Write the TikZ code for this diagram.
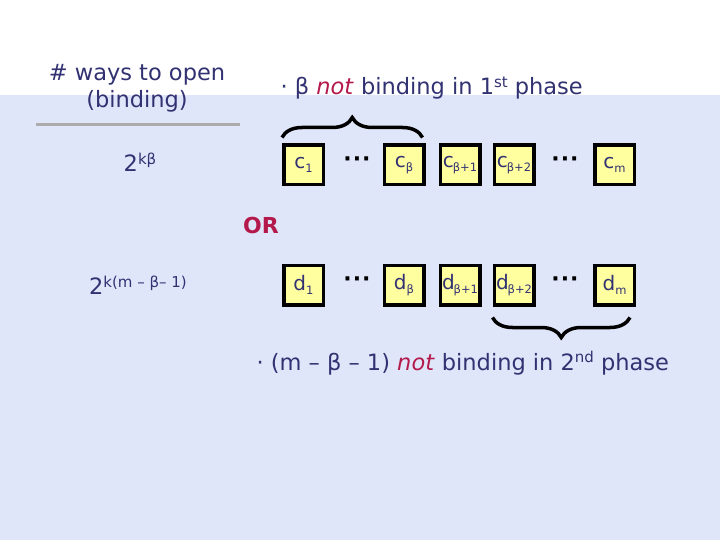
\documentclass[tikz,border=0pt]{standalone}
\usepackage{fontspec}
\setmainfont{DejaVu Sans}
\usetikzlibrary{positioning,decorations.pathreplacing}
\definecolor{ink}{RGB}{50,50,115}
\definecolor{notred}{RGB}{180,25,75}
\definecolor{slide}{RGB}{224,230,250}
\definecolor{cellfill}{RGB}{255,255,160}
\newcommand{\up}[1]{\raisebox{0.6ex}{\fontsize{15}{15}\selectfont #1}}
\newcommand{\dn}[1]{\raisebox{-0.4ex}{\fontsize{11.5}{11.5}\selectfont #1}}
\begin{document}
\begin{tikzpicture}[x=1pt,y=-1pt,
  cell/.style={draw=black,line width=3.5pt,fill=cellfill,minimum size=39.5pt,inner sep=0pt,
    text=ink,font=\fontsize{20}{20}\selectfont},
  lbl/.style={text=ink,font=\fontsize{22.5}{27}\selectfont},
  brace/.style={draw=black,line width=3.5pt,decorate,decoration={brace,amplitude=20pt}}]
\def\rowc{165}
\def\rowd{285}
% slide background
\fill[white] (0,0) rectangle (720,540);
\fill[slide] (0,95) rectangle (720,540);
% left column
\node[lbl,align=center] (ways) at (137,88) {\# ways to open\\(binding)};
\draw[gray!65,line width=3pt] (36,125) -- (240,125);
\node[lbl] (kb) at (140,162) {2\up{kβ}};
\node[lbl] (km) at (138,285) {2\up{k(m – β– 1)}};
\node[text=notred,font=\fontsize{22}{22}\selectfont\bfseries] (or) at (261,225) {OR};
% the two rows of cells
\foreach \r/\y in {c/\rowc,d/\rowd}{
  \node[cell] (\r1) at (303.5,\y) {\r\dn{1}};
  \node[cell] (\r b) at (404,\y) {\r\dn{β}};
  \node[cell] (\r b1) at (460,\y) {\r\kern-1pt\dn{β+1}};
  \node[cell] (\r b2) at (514,\y) {\r\kern-1pt\dn{β+2}};
  \node[cell] (\r m) at (614.5,\y) {\r\dn{m}};
  \node[font=\fontsize{22}{22}\selectfont\bfseries] (\r dots1) at (357,\y-3) {·\hspace{1pt}·\hspace{1pt}·};
  \node[font=\fontsize{22}{22}\selectfont\bfseries] (\r dots2) at (565,\y-3) {·\hspace{1pt}·\hspace{1pt}·};
}
% braces and captions
\draw[brace] ([yshift=6pt]c1.north west) -- ([xshift=-3pt,yshift=6pt]cb.north east);
\node[lbl,anchor=west] (first) at (277,88)
  {· β \textcolor{notred}{\textit{not}} binding in 1\up{st} phase};
\draw[brace] ([xshift=-6pt,yshift=-11pt]dm.south east) -- ([yshift=-11pt]db2.south west);
\node[lbl,anchor=west] (second) at (253,363)
  {· (m – β – 1) \textcolor{notred}{\textit{not}} binding in 2\up{nd} phase};
\end{tikzpicture}
\end{document}
